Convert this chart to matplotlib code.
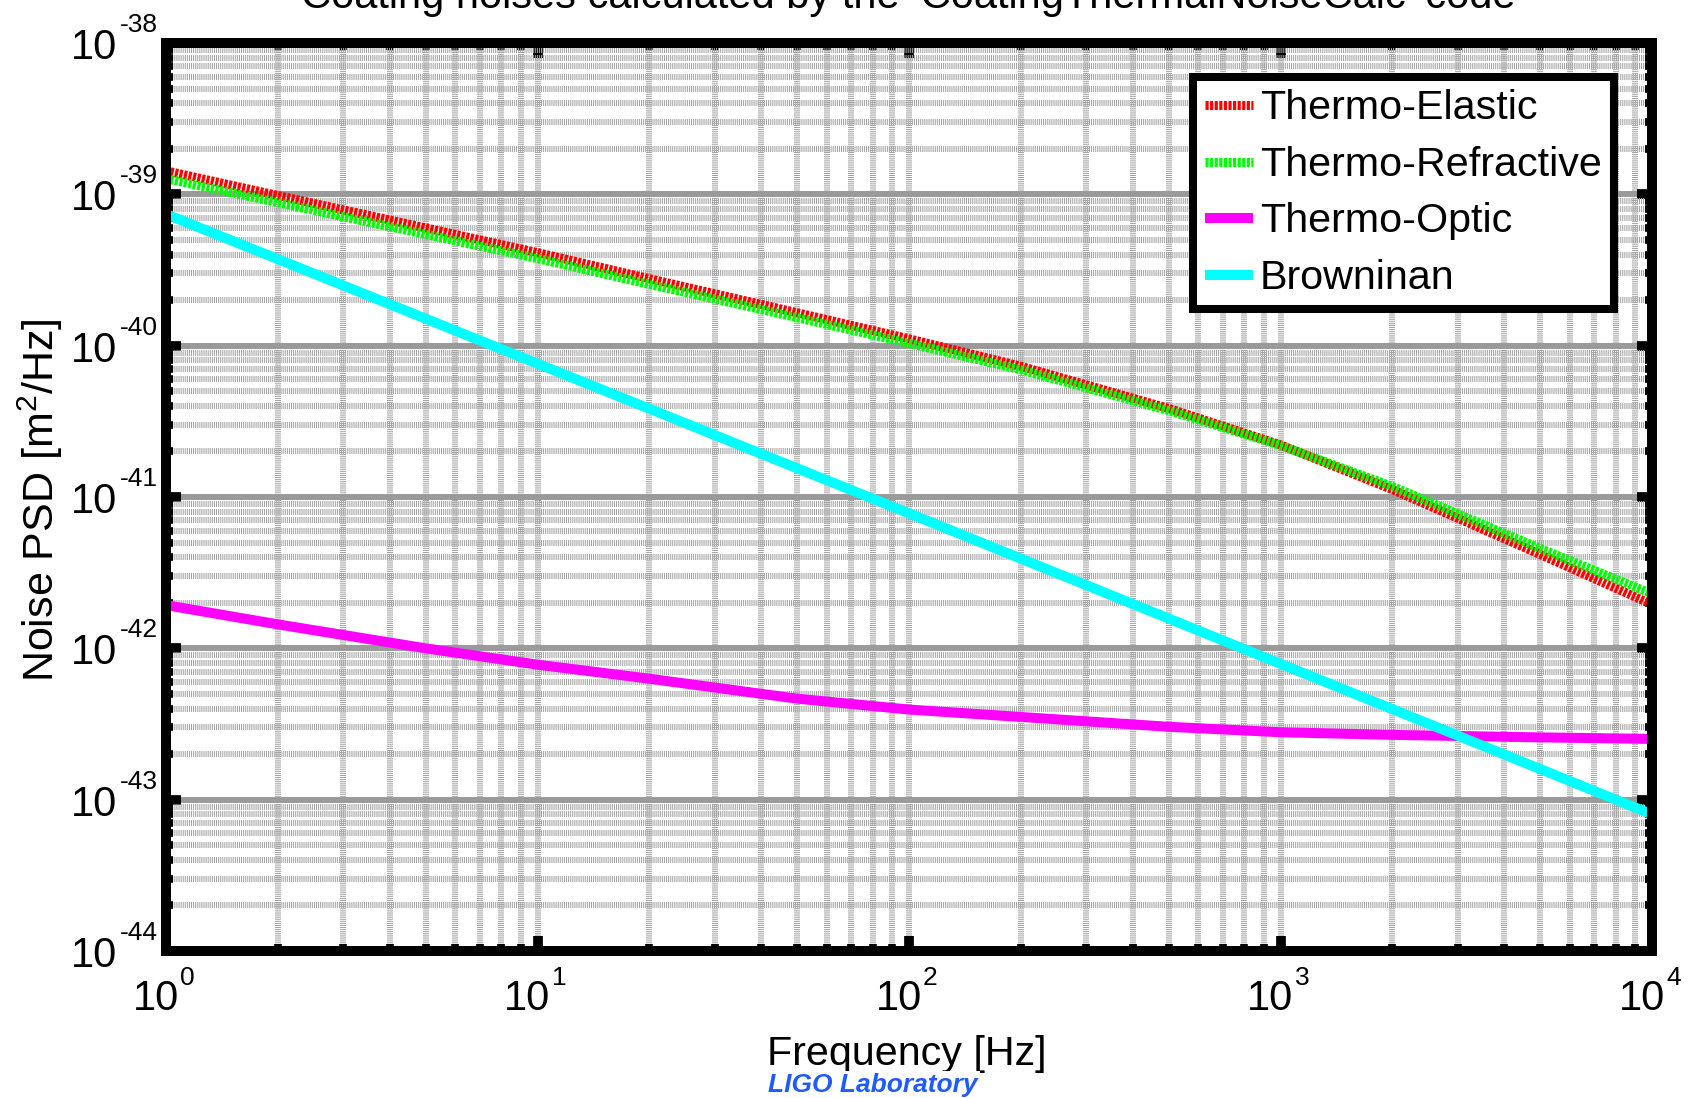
import numpy as np
import matplotlib
matplotlib.use("Agg")
import matplotlib.pyplot as plt
from matplotlib.ticker import LogLocator, NullFormatter

plt.rcParams['font.family'] = ['Liberation Sans', 'DejaVu Sans']
plt.rcParams['mathtext.fontset'] = 'custom'
plt.rcParams['mathtext.rm'] = 'Liberation Sans'
plt.rcParams['lines.scale_dashes'] = False

# Coating thermal noise PSD estimates [m^2/Hz] versus frequency [Hz]
freq = [1, 2, 5, 10, 20, 50, 100, 200, 500, 1000, 2000, 5000, 10000]
thermo_elastic = [1.43e-39, 9.82e-40, 6.00e-40, 4.12e-40, 2.77e-40, 1.65e-40, 1.11e-40,
                  7.31e-41, 3.85e-41, 2.21e-41, 1.12e-41, 4.17e-42, 1.95e-42]
thermo_refractive = [1.27e-39, 8.81e-40, 5.43e-40, 3.76e-40, 2.54e-40, 1.53e-40, 1.035e-40,
                     6.92e-41, 3.72e-41, 2.19e-41, 1.175e-41, 4.57e-42, 2.29e-42]
thermo_optic = [1.93e-42, 1.44e-42, 1.00e-42, 7.8e-43, 6.3e-43, 4.65e-43, 3.94e-43,
                3.52e-43, 3.03e-43, 2.79e-43, 2.68e-43, 2.58e-43, 2.52e-43]
freq_brownian = [1, 10, 100, 1000, 10000]
brownian = [7.4e-40, 7.6e-41, 7.8e-42, 7.9e-43, 8.0e-44]

labels = ['Thermo-Elastic', 'Thermo-Refractive', 'Thermo-Optic', 'Browninan']
x_decades = [0, 1, 2, 3, 4]
y_decades = [-44, -43, -42, -41, -40, -39, -38]

W, H = 1691, 1098
fig = plt.figure(figsize=(W / 100, H / 100), dpi=100)
ax = fig.add_axes([166 / W, 1 - 951 / H, (1652 - 166) / W, (951 - 43) / H])

ax.set_xscale('log')
ax.set_yscale('log')
ax.set_xlim(1, 1e4)
ax.set_ylim(1e-44, 1e-38)

dot = (0, (2.3, 1.0))
ax.plot(freq, thermo_elastic, color='#ff0000', lw=6.5, ls=dot, label=labels[0])
ax.plot(freq, thermo_refractive, color='#00ff00', lw=6.5, ls=dot, label=labels[1])
ax.plot(freq, thermo_optic, color='#ff00ff', lw=7.2, label=labels[2],
        solid_capstyle='butt')
ax.plot(freq_brownian, brownian, color='#00ffff', lw=7.2, label=labels[3],
        solid_capstyle='butt')

# grid
ax.set_axisbelow(True)
ax.xaxis.set_major_locator(LogLocator(base=10, numticks=20))
ax.yaxis.set_major_locator(LogLocator(base=10, numticks=20))
ax.xaxis.set_minor_locator(LogLocator(base=10, subs=np.arange(2, 10), numticks=100))
ax.yaxis.set_minor_locator(LogLocator(base=10, subs=np.arange(2, 10), numticks=100))
ax.xaxis.set_minor_formatter(NullFormatter())
ax.yaxis.set_minor_formatter(NullFormatter())
grid_dots = (0, (0.75, 0.75))
ax.grid(True, which='minor', axis='both', color='#a4a4a4', lw=4.3, ls=grid_dots)
ax.grid(True, which='major', axis='x', color='#a4a4a4', lw=4.3, ls=grid_dots)
ax.grid(True, which='major', axis='y', color='#9a9a9a', lw=4.3, ls='-')

for s in ax.spines.values():
    s.set_linewidth(7.2)
    s.set_color('black')

ax.tick_params(which='both', direction='in', top=True, right=True,
               labelbottom=False, labelleft=False, color='black')
ax.tick_params(which='major', length=10.8, width=7)
ax.tick_params(which='minor', length=5, width=5.5)

# tick labels: base and raised exponent
base_fs, exp_fs = 30, 19
for d in x_decades:
    ax.annotate('10', xy=(10.0 ** d, 0), xycoords=('data', 'axes fraction'),
                xytext=(13, -59), textcoords='offset pixels',
                ha='right', va='baseline', fontsize=base_fs)
    ax.annotate(str(d), xy=(10.0 ** d, 0), xycoords=('data', 'axes fraction'),
                xytext=(14, -34), textcoords='offset pixels',
                ha='left', va='baseline', fontsize=exp_fs)
for d in y_decades:
    ax.annotate('10', xy=(0, 10.0 ** d), xycoords=('axes fraction', 'data'),
                xytext=(-49, -16), textcoords='offset pixels',
                ha='right', va='baseline', fontsize=base_fs)
    ax.annotate(str(d), xy=(0, 10.0 ** d), xycoords=('axes fraction', 'data'),
                xytext=(-46, 11), textcoords='offset pixels',
                ha='left', va='baseline', fontsize=exp_fs)

leg = ax.legend(loc='upper right', bbox_to_anchor=((1614 - 166) / (1652 - 166), 1 - (77 - 43) / (951 - 43)),
                bbox_transform=ax.transAxes, borderaxespad=0, fontsize=29.7,
                handlelength=1.16, handletextpad=0.17, borderpad=0.3,
                labelspacing=0.45, fancybox=False, framealpha=1, edgecolor='black')
leg.get_frame().set_linewidth(5.8)

fig.text(908 / W, 1 - 8 / H,
         "Coating noises calculated by the \u2018CoatingThermalNoiseCalc\u2019 code",
         ha='center', va='baseline', fontsize=30)
fig.text(907 / W, 1 - 1065 / H, 'Frequency [Hz]', ha='center', va='baseline', fontsize=29.7)
fig.text(40 / W, 1 - 500 / H, r'Noise PSD [m$^2$/Hz]', rotation=90,
         ha='center', va='center', fontsize=31)
fig.text(873 / W, 1 - 1092 / H, 'LIGO Laboratory', ha='center', va='baseline',
         fontsize=19, fontweight='bold', fontstyle='italic', color='#1f5bff',
         bbox=dict(facecolor='white', edgecolor='none', pad=1.5))

fig.savefig('out.png', dpi=100)
